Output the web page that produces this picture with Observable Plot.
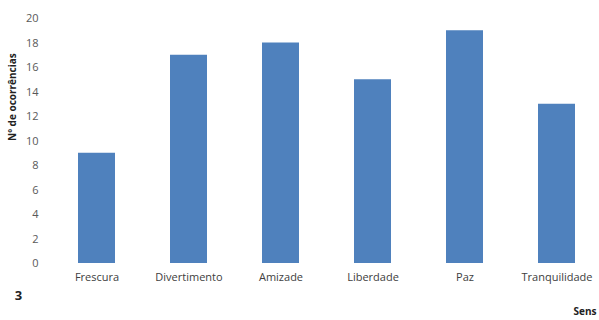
<!DOCTYPE html>
<html>
<head>
<meta charset="utf-8">
<script src="https://cdn.jsdelivr.net/npm/d3@7"></script>
<script src="https://cdn.jsdelivr.net/npm/@observablehq/plot@0.6"></script>
<style>
  html, body { margin: 0; padding: 0; background: #fff; }
  #chart svg { display: block; }
</style>
</head>
<body>
<div id="chart"></div>
<script>
// Sensations and how often each was mentioned
const sensacoes = ["Frescura", "Divertimento", "Amizade", "Liberdade", "Paz", "Tranquilidade"];
const ocorrencias = [9, 17, 18, 15, 19, 13];
const yTicks = [0, 2, 4, 6, 8, 10, 12, 14, 16, 18, 20];

const data = sensacoes.map((s, i) => ({sensacao: s, n: ocorrencias[i]}));

const font = "'Open Sans', 'Liberation Sans', sans-serif";

const chart = Plot.plot({
  width: 599,
  height: 320,
  marginLeft: 49,
  marginRight: 0,
  marginTop: 18,
  marginBottom: 57,
  style: {fontFamily: font, fontSize: "11px", color: "#595959", background: "#fff"},
  x: {domain: sensacoes, range: [49, 604], paddingInner: 0.6, paddingOuter: 0.3, label: null},
  y: {domain: [0, 20], ticks: yTicks, label: null},
  marks: [
    Plot.ruleY(yTicks, {stroke: "#d9d9d9", strokeWidth: 1, x1: 45, x2: 604}),
    Plot.barY(data, {x: "sensacao", y: "n", fill: "#4f81bd"}),
    Plot.axisY({ticks: yTicks, tickSize: 0, tickPadding: 11, fontSize: 11, fill: "#595959", label: null}),
    Plot.axisX({tickSize: 0, tickPadding: 10, fontSize: 11, fill: "#404040", label: null}),
    Plot.text(["Nº de ocorrências"], {
      frameAnchor: "left", dx: -37, rotate: -90,
      fontWeight: "bold", fontSize: 10, fill: "#222"
    }),
    Plot.text(["3"], {
      frameAnchor: "bottom-left", dx: -31, dy: 36,
      fontSize: 13, fontWeight: "bold", fill: "#222", textAnchor: "middle"
    }),
    Plot.text(["Sens"], {
      frameAnchor: "bottom-right", dy: 51, dx: -26,
      fontSize: 10, fontWeight: "bold", fill: "#222", textAnchor: "start"
    })
  ]
});

document.getElementById("chart").append(chart);
</script>
</body>
</html>
